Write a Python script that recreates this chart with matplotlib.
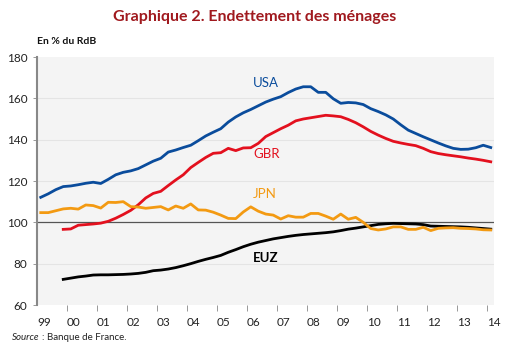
import matplotlib
matplotlib.use("Agg")
import matplotlib.pyplot as plt
import numpy as np

plt.rcParams['font.family'] = ['Lato', 'DejaVu Sans']

# Quarterly data, % of gross disposable income
# USA, JPN: 1999Q1 .. 2014Q1
usa = [112.1, 113.8, 115.8, 117.3, 117.6, 118.2, 118.9, 119.4, 118.8, 120.8, 123.0, 124.2,
       124.9, 126.0, 127.8, 129.6, 131.0, 134.0, 135.0, 136.2, 137.3, 139.5, 141.8, 143.6,
       145.3, 148.5, 151.0, 153.0, 154.6, 156.4, 158.2, 159.6, 160.8, 162.8, 164.5, 165.6,
       165.6, 162.9, 162.9, 159.8, 157.6, 158.0, 157.8, 157.0, 155.0, 153.6, 152.0, 150.0,
       147.2, 144.6, 143.0, 141.4, 139.9, 138.4, 137.0, 135.8, 135.3, 135.4, 136.1, 137.3,
       136.2]
jpn = [104.7, 104.7, 105.6, 106.5, 106.8, 106.4, 108.4, 108.1, 106.9, 109.7, 109.6, 110.0,
       107.6, 107.4, 106.8, 107.2, 107.6, 106.0, 107.9, 106.8, 108.9, 106.0, 105.9, 104.9,
       103.5, 101.9, 101.8, 105.0, 107.5, 105.4, 104.0, 103.5, 101.6, 103.2, 102.5, 102.5,
       104.3, 104.3, 103.0, 101.5, 104.0, 101.5, 102.4, 100.0, 97.0, 96.3, 96.8, 97.8,
       97.8, 96.6, 96.6, 97.6, 96.0, 97.1, 97.3, 97.4, 97.1, 97.0, 96.8, 96.4, 96.3]
# GBR, EUZ: 1999Q4 .. 2014Q1
gbr = [96.6, 96.8, 98.6, 98.9, 99.2, 99.6, 100.5, 102.0, 103.8, 105.8, 108.5, 111.8, 114.0,
       115.0, 117.8, 120.5, 123.0, 126.5, 129.0, 131.4, 133.4, 133.7, 135.8, 134.7, 136.0,
       136.1, 138.2, 141.5, 143.4, 145.3, 147.0, 149.1, 150.0, 150.6, 151.2, 151.8, 151.5,
       151.1, 149.8, 148.2, 146.2, 144.0, 142.2, 140.6, 139.2, 138.4, 137.7, 137.1, 135.8,
       134.2, 133.3, 132.7, 132.2, 131.7, 131.1, 130.6, 130.0, 129.3]
euz = [72.4, 73.0, 73.6, 74.0, 74.5, 74.6, 74.6, 74.7, 74.8, 75.0, 75.3, 75.8, 76.6,
       76.9, 77.4, 78.1, 79.0, 80.0, 81.1, 82.1, 83.0, 84.0, 85.5, 86.8, 88.2,
       89.4, 90.4, 91.2, 92.0, 92.6, 93.2, 93.7, 94.1, 94.4, 94.7, 95.0, 95.4,
       96.0, 96.7, 97.2, 97.8, 98.4, 99.0, 99.3, 99.5, 99.4, 99.3, 99.2, 98.9,
       98.2, 98.1, 98.0, 97.9, 97.8, 97.6, 97.3, 97.0, 96.7]
year_labels = ['99', '00', '01', '02', '03', '04', '05', '06', '07', '08', '09',
               '10', '11', '12', '13', '14']
y_ticks = [60, 80, 100, 120, 140, 160, 180]


def qtimes(y0, q0, n):
    return [y0 + (q0 - 1 + k) * 0.25 + 0.125 for k in range(n)]


W, H = 510, 351
fig = plt.figure(figsize=(W / 100, H / 100), dpi=100)
L, R, T, B = 37, 494, 57, 305
ax = fig.add_axes([L / W, 1 - B / H, (R - L) / W, (B - T) / H])
ax.set_facecolor('#f4f4f4')

ax.set_xlim(1999, 1999 + (R - L) / 30)
ax.set_ylim(60, 180)

for g in [80, 120, 140, 160]:
    ax.axhline(g, color='#e4e4e4', lw=0.8, zorder=1)
ax.axhline(100, color='#555555', lw=0.9, zorder=2)

c_usa, c_gbr, c_jpn, c_euz = '#0a4c9c', '#e3101e', '#f39a12', '#000000'
ax.plot(qtimes(1999, 1, len(usa)), usa, color=c_usa, lw=2.0, zorder=3)
ax.plot(qtimes(1999, 4, len(gbr)), gbr, color=c_gbr, lw=2.0, zorder=3)
ax.plot(qtimes(1999, 1, len(jpn)), jpn, color=c_jpn, lw=2.0, zorder=4)
ax.plot(qtimes(1999, 4, len(euz)), euz, color=c_euz, lw=2.0, zorder=3)

lab_kw = dict(fontsize=9.5, ha='left', va='center')
ax.text(2006.2, 167.5, 'USA', color=c_usa, **lab_kw)
ax.text(2006.2, 133.0, 'GBR', color=c_gbr, **lab_kw)
ax.text(2006.2, 113.5, 'JPN', color=c_jpn, **lab_kw)
ax.text(2006.2, 82.5, 'EUZ', color=c_euz, fontweight='bold', **lab_kw)

for s in ['top', 'right', 'bottom']:
    ax.spines[s].set_visible(False)
ax.spines['left'].set_color('#888888')
ax.spines['left'].set_linewidth(1.5)

ax.set_yticks(y_ticks)
ax.set_yticklabels([str(v) for v in y_ticks])
ax.tick_params(axis='y', length=3, width=0.6, color='#888888', pad=4,
               labelsize=8.5, labelcolor='#222222')

years = list(range(1999, 1999 + len(year_labels)))
ax.set_xticks(years)
ax.set_xticklabels(year_labels, ha='left')
ax.tick_params(axis='x', which='major', length=4, width=0.6, color='#888888',
               pad=5, direction='out', labelsize=8.5, labelcolor='#222222')
ax.xaxis.get_major_ticks()[0].tick1line.set_visible(False)

fig.text(0.5, 1 - 17 / H, 'Graphique 2. Endettement des ménages', ha='center',
         va='center', fontsize=11.5, fontweight='bold', color='#a0191e')
fig.text(37 / W, 1 - 42 / H, 'En % du RdB', ha='left', va='center',
         fontsize=7.5, fontweight='bold', color='#111111')
t1 = fig.text(12 / W, 1 - 337 / H, 'Source', ha='left', va='center',
              fontsize=7, fontstyle='italic', color='#222222')
fig.canvas.draw()
bb = t1.get_window_extent(renderer=fig.canvas.get_renderer())
fig.text((bb.x1 + 2) / W, 1 - 337 / H, ': Banque de France.', ha='left', va='center',
         fontsize=7, color='#222222')

fig.savefig('out.png', dpi=100)
